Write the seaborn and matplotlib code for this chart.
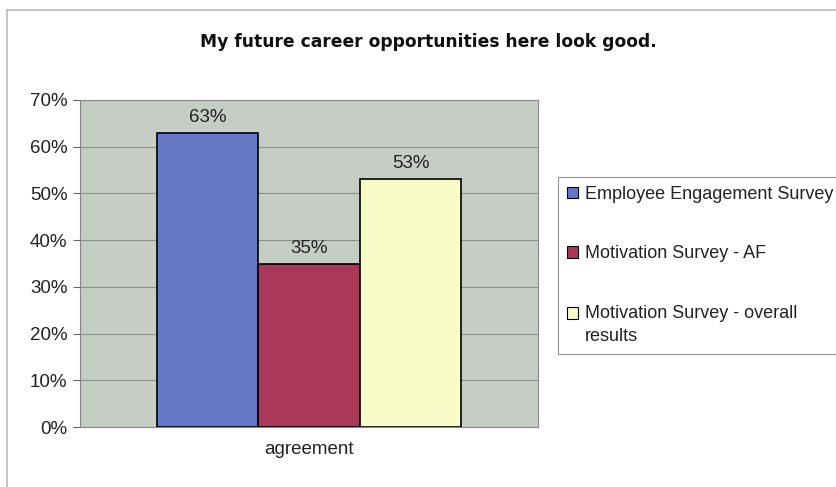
import matplotlib
matplotlib.use("Agg")
import matplotlib.pyplot as plt
import seaborn as sns
import pandas as pd
from matplotlib.patches import Patch, Rectangle
from matplotlib.lines import Line2D
from matplotlib.legend_handler import HandlerPatch

categories = ["agreement"]
series = ["Employee Engagement Survey", "Motivation Survey - AF", "Motivation Survey - overall results"]
legend_labels = ["Employee Engagement Survey", "Motivation Survey - AF", "Motivation Survey - overall\nresults"]
values = [63, 35, 53]
colors = ["#6577c6", "#a9385b", "#f8fcc8"]
yticks = [0, 10, 20, 30, 40, 50, 60, 70]
title = "My future career opportunities here look good."

df = pd.DataFrame({"category": categories * len(series), "series": series, "value": values})

sns.set_theme(style="white")
plt.rcParams["font.family"] = ["Liberation Sans", "DejaVu Sans"]

fig = plt.figure(figsize=(8.36, 4.87), dpi=100)
fig.patch.set_facecolor("white")
ax = fig.add_axes([80/836, 1-427/487, (538-80)/836, (427-100)/487])
ax.set_facecolor("#c6cdc4")

sns.barplot(data=df, x="category", y="value", hue="series", hue_order=series,
            palette=colors, width=0.665, gap=0, edgecolor="black", linewidth=1.2,
            saturation=1, legend=False, ax=ax, zorder=3)

ax.set_ylim(0, 70)
ax.set_xlim(-0.5, 0.5)
ax.set_yticks(yticks)
ax.set_yticklabels([f"{t}%" for t in yticks], fontsize=13.5, color="#222222")
ax.yaxis.grid(True, color="#8a918a", linewidth=0.8, zorder=0)
ax.set_axisbelow(True)
ax.tick_params(axis="y", length=5, width=0.8, color="#666666", pad=4, left=True)
ax.tick_params(axis="x", labelsize=13.5, colors="#222222", pad=10, length=0)
ax.set_xlabel("")
ax.set_ylabel("")
for s in ax.spines.values():
    s.set_color("#888888")
    s.set_linewidth(0.8)

for cont in ax.containers:
    ax.bar_label(cont, labels=[f"{v:.0f}%" for v in cont.datavalues], fontsize=13.5, padding=5, color="#222222")

fig.text(428/836, 1-42/487, title, ha="center", va="center", fontsize=12.3, fontweight="bold",
         color="#111111", family=["DejaVu Sans"])


class TopHandler(HandlerPatch):
    def __init__(self, shift, **kw):
        super().__init__(**kw)
        self.shift = shift

    def create_artists(self, legend, orig_handle, xdescent, ydescent, width, height, fontsize, trans):
        r = Rectangle((-xdescent, -ydescent + self.shift), width, height)
        self.update_prop(r, orig_handle, legend)
        r.set_transform(trans)
        return [r]


handles = [Patch(facecolor=c, edgecolor="black", linewidth=0.8) for c in colors]
leg = fig.legend(handles, legend_labels, loc="upper left", bbox_to_anchor=(558/836, 1-177/487),
                 fontsize=13, frameon=True, fancybox=False, edgecolor="#777777",
                 handlelength=0.6, handleheight=0.6, handletextpad=0.4, labelspacing=2.35,
                 borderpad=0.5, borderaxespad=0,
                 handler_map={handles[2]: TopHandler(9.0)})
leg.get_frame().set_linewidth(0.8)
for t in leg.get_texts():
    t.set_linespacing(1.5)
    t.set_color("#222222")

fig.add_artist(Line2D([7/836, 7/836], [0, 1-10/487], color="#bbbbbb", linewidth=1.2, transform=fig.transFigure))
fig.add_artist(Line2D([7/836, 1], [1-10/487, 1-10/487], color="#bbbbbb", linewidth=1.2, transform=fig.transFigure))

fig.savefig("out.png", dpi=100)
